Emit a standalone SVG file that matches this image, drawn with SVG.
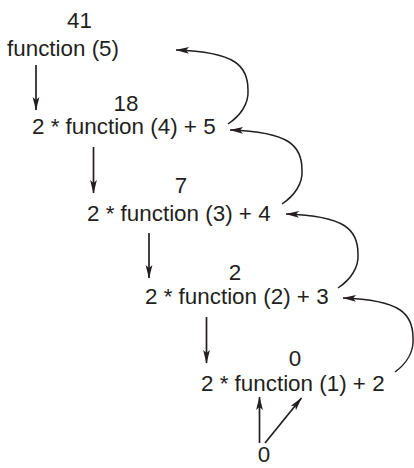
<svg xmlns="http://www.w3.org/2000/svg" width="414" height="468" viewBox="0 0 414 468">
<style>
text{font-family:"Liberation Sans",Arial,sans-serif;font-size:22.4px;fill:#231f20}
.v{text-anchor:middle}
.c{fill:none;stroke:#231f20;stroke-width:1.7;marker-end:url(#ah)}
.k{stroke-width:1.5}
</style>
<defs>
<marker id="ah" markerUnits="userSpaceOnUse" viewBox="0 -4 14 8" markerWidth="14" markerHeight="8" refX="13" refY="0" orient="auto" overflow="visible">
<path d="M13.5,0 L0,-3.4 L3,0 L0,3.4 Z" fill="#231f20"/>
</marker>
</defs>
<rect width="414" height="468" fill="#fff"/>
<g id="n5"><text class="v" x="79.5" y="28">41</text><text x="7" y="56">function (5)</text></g>
<g id="n4"><text class="v" x="126" y="111">18</text><text x="32" y="134">2 * function (4) + 5</text></g>
<g id="n3"><text class="v" x="181" y="193">7</text><text x="87" y="221">2 * function (3) + 4</text></g>
<g id="n2"><text class="v" x="235" y="280">2</text><text x="145" y="304">2 * function (2) + 3</text></g>
<g id="n1"><text class="v" x="295" y="366">0</text><text x="201" y="390.5">2 * function (1) + 2</text></g>
<g id="n0"><text class="v" x="264" y="462">0</text></g>
<g id="connectors">
<path class="c" d="M36,65 V110"/>
<path class="c" d="M93.5,147 V193"/>
<path class="c" d="M149,233 V278"/>
<path class="c" d="M206.5,317 V363"/>
<path class="c" d="M259.5,443 V397"/>
<path class="c" d="M265,443 L301.5,398"/>
<path class="c k" d="M228,124 c12,-8 21,-20 20,-34 c0,-24 -12,-38 -72,-40"/>
<path class="c k" d="M282,204 c12,-8 21,-20 20,-34 c0,-24 -12,-38 -72,-40"/>
<path class="c k" d="M338,288 c12,-8 21,-20 20,-34 c0,-24 -12,-38 -72,-40"/>
<path class="c k" d="M395,372 c11,-8 19,-20 18,-34 c0,-24 -12,-38 -70,-40"/>
</g>
</svg>
